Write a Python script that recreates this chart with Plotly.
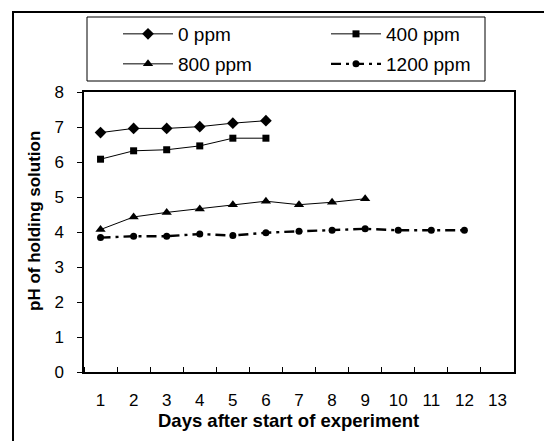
import plotly.graph_objects as go

days = list(range(1, 14))
day_labels = [str(d) for d in days]

series_names = ["0 ppm", "400 ppm", "800 ppm", "1200 ppm"]
ph_0 = [6.84, 6.96, 6.96, 7.01, 7.11, 7.18]
ph_400 = [6.08, 6.32, 6.35, 6.46, 6.68, 6.68]
ph_800 = [4.07, 4.43, 4.56, 4.66, 4.78, 4.88, 4.78, 4.85, 4.95]
ph_1200 = [3.84, 3.88, 3.88, 3.94, 3.90, 3.98, 4.02, 4.05, 4.09, 4.05, 4.05, 4.05]

x_title = "Days after start of experiment"
y_title = "pH of holding solution"

FONT = "Arial, Liberation Sans, sans-serif"

fig = go.Figure()
fig.add_trace(go.Scatter(x=days[:len(ph_0)], y=ph_0, name=series_names[0], mode="lines+markers",
                         line=dict(color="black", width=1), marker=dict(symbol="diamond", size=9, color="black"),
                         legend="legend", showlegend=True))
fig.add_trace(go.Scatter(x=days[:len(ph_400)], y=ph_400, name=series_names[1], mode="lines+markers",
                         line=dict(color="black", width=1), marker=dict(symbol="square", size=7, color="black"),
                         legend="legend2", showlegend=True))
fig.add_trace(go.Scatter(x=days[:len(ph_800)], y=ph_800, name=series_names[2], mode="lines+markers",
                         line=dict(color="black", width=1), marker=dict(symbol="triangle-up", size=9, color="black"),
                         legend="legend3", showlegend=True))
fig.add_trace(go.Scatter(x=days[:len(ph_1200)], y=ph_1200, name=series_names[3], mode="lines+markers",
                         line=dict(color="black", width=2.4, dash="10px,5px,3px,5px"),
                         marker=dict(symbol="circle", size=7, color="black"),
                         legend="legend4", showlegend=True))

W, H = 544, 441
L, R, T, B = 84, 30, 92, 69
pw, ph = W - L - R, H - T - B

def px_x(x):
    return (x - L) / pw

def px_y(y):
    return 1 - (y - T) / ph

def leg(xp, yp):
    return dict(orientation="v", xref="paper", yref="paper", xanchor="left", yanchor="middle",
                x=px_x(xp), y=px_y(yp), bgcolor="rgba(0,0,0,0)", borderwidth=0, itemwidth=50,
                font=dict(family=FONT, size=19, color="black"), itemclick=False)

fig.update_layout(
    width=W, height=H,
    margin=dict(l=L, r=R, t=T, b=B),
    paper_bgcolor="white", plot_bgcolor="white",
    showlegend=True,
    font=dict(family=FONT, size=17, color="black"),
    legend=leg(118, 34),
    legend2=leg(326, 34),
    legend3=leg(118, 64),
    legend4=leg(326, 64),
    xaxis=dict(range=[0.5, 13.5], tickvals=days, ticktext=day_labels, ticks="",
               showline=True, linecolor="black", linewidth=1.5, mirror=True,
               showgrid=False, zeroline=False, ticklabelstandoff=12, automargin=False,
               tickfont=dict(family=FONT, size=17),
               minor=dict(tickvals=[d + 0.5 for d in range(0, 14)], ticks="inside", ticklen=5,
                          tickcolor="black", showgrid=False)),
    yaxis=dict(range=[0, 8], dtick=1, ticks="outside", ticklen=5, tickcolor="black",
               showline=True, linecolor="black", linewidth=1.5, mirror=True,
               showgrid=False, zeroline=False, ticklabelstandoff=10, automargin=False,
               tickfont=dict(family=FONT, size=17)),
    annotations=[
        dict(text="<b>" + x_title + "</b>", xref="paper", yref="paper", x=px_x(288), y=px_y(420),
             xanchor="center", yanchor="middle", showarrow=False, font=dict(family=FONT, size=18.5)),
        dict(text="<b>" + y_title + "</b>", xref="paper", yref="paper", x=px_x(35), y=px_y(221),
             xanchor="center", yanchor="middle", textangle=-90, showarrow=False,
             font=dict(family=FONT, size=17)),
    ],
    shapes=[
        dict(type="rect", xref="paper", yref="paper", x0=px_x(13), y0=px_y(460), x1=px_x(560), y1=px_y(12),
             line=dict(color="black", width=2), fillcolor="rgba(0,0,0,0)", layer="below"),
        dict(type="rect", xref="paper", yref="paper", x0=px_x(87), y0=px_y(81), x1=px_x(485), y1=px_y(17),
             line=dict(color="black", width=1), fillcolor="rgba(0,0,0,0)", layer="below"),
    ],
)

fig.write_html("out.html", config={"displayModeBar": False},
               post_script="document.body.style.margin='0';")
